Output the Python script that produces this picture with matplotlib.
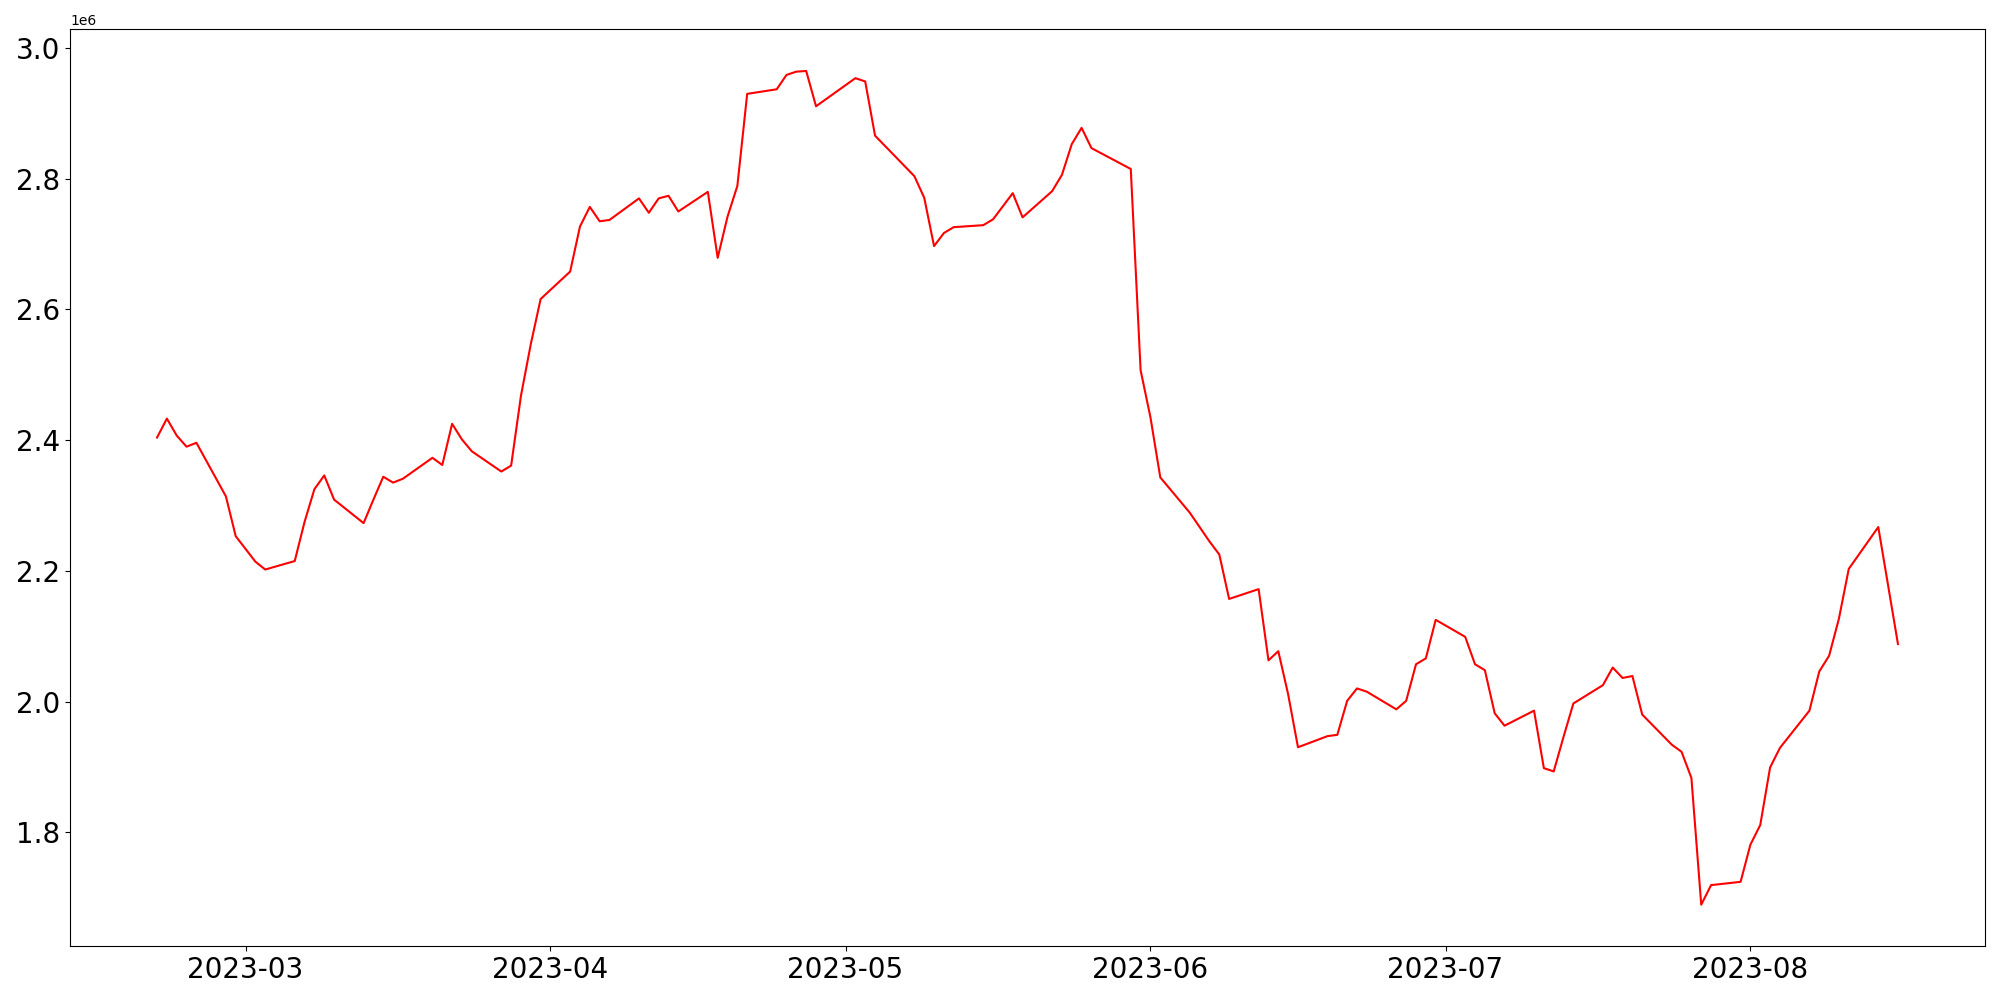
import matplotlib
matplotlib.use("Agg")
import matplotlib.pyplot as plt
import numpy as np
import pandas as pd

# Trading days (KRX calendar: weekends + holidays skipped)
holidays = ["2023-03-01", "2023-05-01", "2023-05-05",
            "2023-05-29", "2023-06-06", "2023-08-15"]
dates = pd.bdate_range("2023-02-20", "2023-08-16", freq="C", holidays=holidays)

# values in millions, one list per month
feb = [2.404, 2.433, 2.407, 2.390, 2.396, 2.314, 2.253]
mar = [2.214, 2.202, 2.215, 2.275, 2.325, 2.346, 2.309, 2.273, 2.309, 2.344,
       2.335, 2.341, 2.373, 2.362, 2.425, 2.401, 2.383, 2.352, 2.361, 2.468,
       2.547, 2.616]
apr = [2.658, 2.727, 2.757, 2.735, 2.737, 2.770, 2.748, 2.770, 2.774, 2.750,
       2.780, 2.679, 2.742, 2.789, 2.930, 2.937, 2.959, 2.964, 2.965, 2.911]
may = [2.954, 2.949, 2.866, 2.804, 2.771, 2.697, 2.717, 2.726, 2.729, 2.738,
       2.758, 2.778, 2.741, 2.781, 2.806, 2.853, 2.878, 2.847, 2.815, 2.507]
jun = [2.435, 2.343, 2.289, 2.245, 2.225, 2.157, 2.172, 2.063, 2.077, 2.011,
       1.930, 1.947, 1.949, 2.001, 2.020, 2.015, 1.988, 2.001, 2.057, 2.066,
       2.125]
jul = [2.099, 2.057, 2.048, 1.982, 1.963, 1.986, 1.898, 1.893, 1.946, 1.997,
       2.025, 2.052, 2.036, 2.039, 1.980, 1.934, 1.923, 1.883, 1.689, 1.719,
       1.724]
aug = [1.781, 1.811, 1.899, 1.929, 1.986, 2.046, 2.070, 2.127, 2.203, 2.267,
       2.088]

values = np.array(feb + mar + apr + may + jun + jul + aug) * 1e6

fig, ax = plt.subplots(figsize=(20, 10), dpi=100)
ax.plot(dates, values, color="red", lw=1.5)
ax.tick_params(axis="both", labelsize=20)

fig.subplots_adjust(left=0.035, right=0.9925, top=0.9707, bottom=0.0536)
fig.savefig("out.png", dpi=100)
